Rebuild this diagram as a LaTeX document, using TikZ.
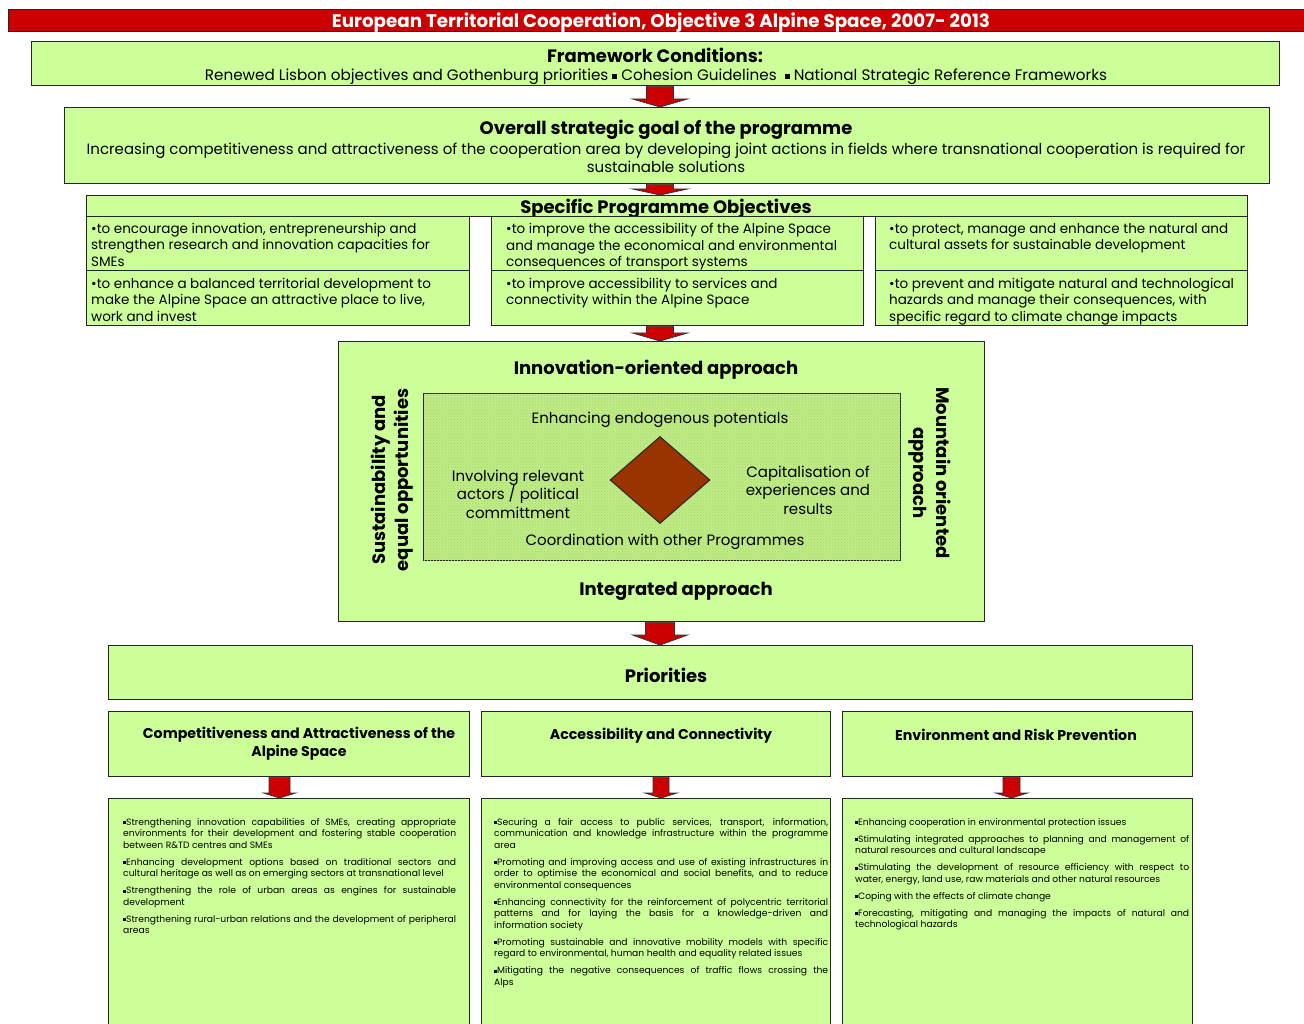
\documentclass[tikz,border=0pt]{standalone}
\usepackage{fontspec}
\setmainfont{Poppins}
\usetikzlibrary{shapes.geometric,calc,patterns}

\definecolor{lgreen}{HTML}{CCFF99}
\definecolor{titlered}{HTML}{CC0000}
\definecolor{corebrown}{HTML}{993300}
\definecolor{innergreen}{HTML}{C0EC86}
\definecolor{dotgreen}{HTML}{A6D46E}

\newcommand{\titlef}{\fontsize{18.3}{21}\selectfont\bfseries}
\newcommand{\headf}{\fontsize{18}{23}\selectfont\bfseries}
\newcommand{\bodyf}{\fontsize{15}{18}\selectfont}
\newcommand{\fwf}{\fontsize{15.2}{18}\selectfont}
\newcommand{\objf}{\fontsize{13.5}{16.5}\selectfont}
\newcommand{\innerf}{\fontsize{15}{18.5}\selectfont}
\newcommand{\priof}{\fontsize{14.2}{18}\selectfont\bfseries}
\newcommand{\smallf}{\fontsize{9.2}{11.5}\selectfont}
\newcommand{\sqb}{\rule[0.12em]{0.32em}{0.32em}}
\newcommand{\pbreak}{\par\vspace{5.5pt}}

% block arrow: x, upper node, lower node, half shaft, half head, head length
\newcommand{\redarrow}[6]{%
  \draw[redarr] let \p1 = (#1,0 |- #2.south), \p2 = (#1,0 |- #3.north) in
    ({\x1-#4pt},\y1) -- ({\x1+#4pt},\y1) -- ({\x1+#4pt},{\y2+#6pt})
    -- ({\x1+#5pt},{\y2+#6pt}) -- (\x1,\y2) -- ({\x1-#5pt},{\y2+#6pt})
    -- ({\x1-#4pt},{\y2+#6pt}) -- cycle;}

\begin{document}
\begin{tikzpicture}[x = 1pt, y = -1pt,
    box/.style = {draw = black!85, fill = lgreen, line width = 1.3pt, anchor = north west, inner sep = 0pt},
    innerbox/.style = {draw = black!85, line width = 1.3pt, anchor = north west, inner sep = 0pt,
      fill = innergreen, postaction = {pattern = crosshatch dots, pattern color = dotgreen}},
    redarr/.style = {draw = black!80, fill = titlered, line width = 0.8pt},
    txt/.style = {inner sep = 0pt, text = black},
    ltxt/.style = {inner sep = 0pt, anchor = north west, align = left, font = \objf},
    jtxt/.style = {inner sep = 0pt, anchor = north west, align = justify, font = \smallf}]
  % \draw[style = help lines] (0,0) grid[step = 50] (1304,1024);
  \useasboundingbox (0,0) rectangle (1304,1024);
  \clip (0,0) rectangle (1304,1024);

  \node[box, fill = titlered, minimum width = 1300pt, minimum height = 22pt] (title) at (8,9) {};
  \node[txt, text = white, font = \titlef] (titletxt) at (661,23)
    {European Territorial Cooperation, Objective 3 Alpine Space, 2007- 2013};

  \node[box, minimum width = 1248pt, minimum height = 44pt] (fw) at (31,41) {};
  \node[txt, font = \headf] (fwhead) at (655,55) {Framework Conditions:};
  \node[txt, font = \fwf] (fwtxt) at (656,77) {Renewed Lisbon objectives and Gothenburg priorities \sqb{} Cohesion Guidelines~ \sqb{} National Strategic Reference Frameworks};

  \node[box, minimum width = 1205pt, minimum height = 76pt] (goal) at (64,107) {};
  \node[txt, font = \headf] (goalhead) at (666,130) {Overall strategic goal of the programme};
  \node[txt, font = \bodyf, align = center] (goaltxt) at (666,158) {Increasing competitiveness and attractiveness of the cooperation area by developing joint actions in fields where transnational cooperation is required for\\sustainable solutions};

  \node[box, minimum width = 1161pt, minimum height = 21pt] (spo) at (86,195) {};
  \node[txt, font = \headf] (spohead) at (666,209) {Specific Programme Objectives};

  \node[box, minimum width = 383pt, minimum height = 54pt] (o11) at (86,216) {};
  \node[box, minimum width = 383pt, minimum height = 55pt] (o21) at (86,270) {};
  \node[box, minimum width = 372pt, minimum height = 54pt] (o12) at (491,216) {};
  \node[box, minimum width = 372pt, minimum height = 55pt] (o22) at (491,270) {};
  \node[box, minimum width = 372pt, minimum height = 54pt] (o13) at (875,216) {};
  \node[box, minimum width = 372pt, minimum height = 55pt] (o23) at (875,270) {};
  \node[ltxt] (o11txt) at (91,223) {•to encourage innovation, entrepreneurship and\\strengthen research and innovation capacities for\\SMEs};
  \node[ltxt] (o21txt) at (91,278) {•to enhance a balanced territorial development to\\make the Alpine Space an attractive place to live,\\work and invest};
  \node[ltxt] (o12txt) at (506,223) {•to improve the accessibility of the Alpine Space\\and manage the economical and environmental\\consequences of transport systems};
  \node[ltxt] (o22txt) at (506,278) {•to improve accessibility to services and\\connectivity within the Alpine Space};
  \node[ltxt] (o13txt) at (889,223) {•to protect, manage and enhance the natural and\\cultural assets for sustainable development};
  \node[ltxt] (o23txt) at (889,278) {•to prevent and mitigate natural and technological\\hazards and manage their consequences, with\\specific regard to climate change impacts};

  \node[box, minimum width = 646pt, minimum height = 280pt] (appr) at (338,341) {};
  \node[innerbox, minimum width = 477pt, minimum height = 167pt] (inner) at (423,393) {};
  \node[txt, font = \headf] (innov) at (656,370) {Innovation-oriented approach};
  \node[txt, font = \headf] (integ) at (676,591) {Integrated approach};
  \node[txt, font = \headf, align = center, rotate = 90] (sust) at (392,480) {Sustainability and\\equal opportunities};
  \node[txt, font = \headf, align = center, rotate = -90] (mount) at (930,473) {Mountain oriented\\approach};
  \node[txt, font = \innerf] (endo) at (660,420) {Enhancing endogenous potentials};
  \node[txt, font = \innerf] (coord) at (665,542) {Coordination with other Programmes};
  \node[txt, font = \innerf, align = center] (invol) at (518,494) {Involving relevant\\actors / political\\committment};
  \node[txt, font = \innerf, align = center] (capit) at (808,490) {Capitalisation of\\experiences and\\results};
  \node[diamond, draw = black!85, fill = corebrown, line width = 1pt, inner sep = 0pt,
    minimum width = 100pt, minimum height = 87pt] (core) at (660,480) {};

  \node[box, minimum width = 1084pt, minimum height = 54pt] (prio) at (108,645) {};
  \node[txt, font = \headf] (priohead) at (666,675) {Priorities};

  \node[box, minimum width = 361pt, minimum height = 65pt] (p1) at (108,711) {};
  \node[box, minimum width = 349pt, minimum height = 65pt] (p2) at (481,711) {};
  \node[box, minimum width = 350pt, minimum height = 65pt] (p3) at (842,711) {};
  \node[txt, font = \priof, align = center] (p1txt) at (299,744) {Competitiveness and Attractiveness of the\\Alpine Space};
  \node[txt, font = \priof] (p2txt) at (661,736) {Accessibility and Connectivity};
  \node[txt, font = \priof] (p3txt) at (1016,735) {Environment and Risk Prevention};

  \node[box, minimum width = 361pt, minimum height = 240pt] (d1) at (108,798) {};
  \node[box, minimum width = 349pt, minimum height = 240pt] (d2) at (481,798) {};
  \node[box, minimum width = 350pt, minimum height = 240pt] (d3) at (842,798) {};
  \node[jtxt, text width = 333pt] (d1txt) at (123,818) {\tolerance=10000
    \sqb Strengthening innovation capabilities of SMEs, creating appropriate\linebreak environments for their development and fostering stable cooperation\linebreak between R\&TD centres and SMEs\pbreak
    \sqb Enhancing development options based on traditional sectors and\linebreak cultural heritage as well as on emerging sectors at transnational level\pbreak
    \sqb Strengthening the role of urban areas as engines for sustainable\linebreak development\pbreak
    \sqb Strengthening rural-urban relations and the development of peripheral\linebreak areas};
  \node[jtxt, text width = 334pt] (d2txt) at (494,818) {\tolerance=10000
    \sqb Securing a fair access to public services, transport, information,\linebreak communication and knowledge infrastructure within the programme\linebreak area\pbreak
    \sqb Promoting and improving access and use of existing infrastructures in\linebreak order to optimise the economical and social benefits, and to reduce\linebreak environmental consequences\pbreak
    \sqb Enhancing connectivity for the reinforcement of polycentric territorial\linebreak patterns and for laying the basis for a knowledge-driven and\linebreak information society\pbreak
    \sqb Promoting sustainable and innovative mobility models with specific\linebreak regard to environmental, human health and equality related issues\pbreak
    \sqb Mitigating the negative consequences of traffic flows crossing the\linebreak Alps};
  \node[jtxt, text width = 334pt] (d3txt) at (855,818) {\tolerance=10000
    \sqb Enhancing cooperation in environmental protection issues\pbreak
    \sqb Stimulating integrated approaches to planning and management of\linebreak natural resources and cultural landscape\pbreak
    \sqb Stimulating the development of resource efficiency with respect to\linebreak water, energy, land use, raw materials and other natural resources\pbreak
    \sqb Coping with the effects of climate change\pbreak
    \sqb Forecasting, mitigating and managing the impacts of natural and\linebreak technological hazards};

  \redarrow{660}{fw}{goal}{13.5}{27.5}{8}
  \redarrow{660}{goal}{spo}{13.5}{27.5}{6}
  \redarrow{660}{o22}{appr}{13.5}{27.5}{8}
  \redarrow{660}{appr}{prio}{14.5}{27.5}{10}
  \redarrow{279.5}{p1}{d1}{10.5}{16}{5}
  \redarrow{661}{p2}{d2}{8}{16}{5}
  \redarrow{1011.5}{p3}{d3}{8.5}{16}{5}
\end{tikzpicture}
\end{document}
